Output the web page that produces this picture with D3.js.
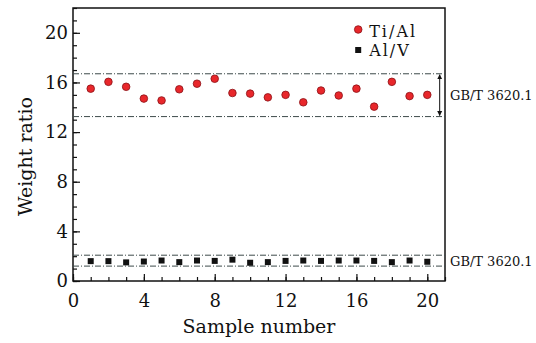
<!DOCTYPE html>
<html>
<head>
<meta charset="utf-8">
<script src="https://cdn.jsdelivr.net/npm/d3@7"></script>
<style>
  body { margin: 0; background: #fff; }
</style>
</head>
<body>
<div id="chart"></div>
<script>
const samples = d3.range(1, 21);
const tiAl = [15.5, 16.05, 15.65, 14.7, 14.55, 15.45, 15.9, 16.3, 15.15, 15.1,
              14.8, 15.0, 14.4, 15.35, 14.95, 15.5, 14.05, 16.05, 14.9, 15.0];
const alV = [1.6, 1.6, 1.5, 1.57, 1.65, 1.52, 1.65, 1.62, 1.72, 1.47,
             1.52, 1.62, 1.65, 1.62, 1.65, 1.65, 1.62, 1.52, 1.65, 1.55];
const tiAlLimits = [13.25, 16.7];
const alVLimits = [1.2, 2.08];
const xTicks = [0, 4, 8, 12, 16, 20];
const yTicks = [0, 4, 8, 12, 16, 20];
const limitLabel = 'GB/T 3620.1';

const FONT = '"DejaVu Serif", "Liberation Serif", serif';
const W = 536, H = 343;
const margin = { top: 8, right: 91, bottom: 62, left: 73 };
const width = W - margin.left - margin.right;
const height = H - margin.top - margin.bottom;

const svg = d3.select('#chart').append('svg')
  .attr('width', W).attr('height', H);
const g = svg.append('g')
  .attr('transform', `translate(${margin.left},${margin.top})`);

const x = d3.scaleLinear().domain([0, 21]).range([0, width]);
const y = d3.scaleLinear().domain([0, 22]).range([height, 0]);

// frame
g.append('rect')
  .attr('width', width).attr('height', height)
  .attr('fill', 'none').attr('stroke', '#111').attr('stroke-width', 1.5);

// minor ticks (inward)
g.append('g')
  .attr('transform', `translate(0,${height})`)
  .call(d3.axisBottom(x).tickValues(d3.range(0, 22)).tickSize(-4).tickFormat(''))
  .call(a => a.select('.domain').remove());
g.append('g')
  .call(d3.axisLeft(y).tickValues(d3.range(0, 23)).tickSize(-4).tickFormat(''))
  .call(a => a.select('.domain').remove());

// major ticks with labels
const xAxis = g.append('g')
  .attr('transform', `translate(0,${height})`)
  .call(d3.axisBottom(x).tickValues(xTicks).tickSize(-7).tickPadding(13));
xAxis.select('.domain').remove();
xAxis.selectAll('text').style('font-size', '18px');

const yAxis = g.append('g')
  .call(d3.axisLeft(y).tickValues(yTicks).tickSize(-7).tickPadding(5));
yAxis.select('.domain').remove();
yAxis.selectAll('text').style('font-size', '18px');
g.selectAll('.tick line').attr('stroke', '#111').attr('stroke-width', 1.2);

// limit lines
const limits = [...tiAlLimits, ...alVLimits];
g.selectAll('.limit')
  .data(limits)
  .enter().append('line')
  .attr('class', 'limit')
  .attr('x1', 0).attr('x2', width)
  .attr('y1', d => y(d)).attr('y2', d => y(d))
  .attr('stroke', '#3d4a4a').attr('stroke-width', 1)
  .attr('stroke-dasharray', '6,2,1,2');

// double arrow for the Ti/Al band
const defs = svg.append('defs');
defs.append('marker')
  .attr('id', 'ah').attr('viewBox', '0 0 10 10')
  .attr('refX', 9).attr('refY', 5)
  .attr('markerWidth', 5).attr('markerHeight', 6)
  .attr('orient', 'auto-start-reverse')
  .append('path').attr('d', 'M0,0 L10,5 L0,10 z').attr('fill', '#111');
g.append('line')
  .attr('x1', x(20.7)).attr('x2', x(20.7))
  .attr('y1', y(tiAlLimits[1]) + 1).attr('y2', y(tiAlLimits[0]) - 1)
  .attr('stroke', '#111').attr('stroke-width', 1)
  .attr('marker-start', 'url(#ah)').attr('marker-end', 'url(#ah)');

// labels to the right
g.append('text')
  .attr('x', width + 5).attr('y', y(d3.mean(tiAlLimits)) + 5)
  .style('font-size', '13px').text(limitLabel);
g.append('text')
  .attr('x', width + 5).attr('y', y(d3.mean(alVLimits)) + 5)
  .style('font-size', '13px').text(limitLabel);

// points
g.selectAll('.ti')
  .data(samples)
  .enter().append('circle')
  .attr('cx', d => x(d)).attr('cy', (d, i) => y(tiAl[i]))
  .attr('r', 3.8)
  .attr('fill', '#e8272b').attr('stroke', '#8a1015').attr('stroke-width', 0.8);

g.selectAll('.al')
  .data(samples)
  .enter().append('rect')
  .attr('x', d => x(d) - 3).attr('y', (d, i) => y(alV[i]) - 3)
  .attr('width', 6).attr('height', 6)
  .attr('fill', '#111');

// legend
const legend = g.append('g').attr('transform', `translate(${x(16.1)},0)`);
legend.append('circle').attr('cx', 0).attr('cy', 21.5).attr('r', 3.8)
  .attr('fill', '#e8272b').attr('stroke', '#8a1015').attr('stroke-width', 0.8);
legend.append('text').attr('x', 11).attr('y', 29)
  .style('font-size', '16px').style('letter-spacing', '2px').text('Ti/Al');
legend.append('rect').attr('x', -3).attr('y', 39).attr('width', 6).attr('height', 6).attr('fill', '#111');
legend.append('text').attr('x', 11).attr('y', 47.5)
  .style('font-size', '16px').style('letter-spacing', '2px').text('Al/V');

// axis titles
svg.append('text')
  .attr('x', margin.left + width / 2).attr('y', H - 10)
  .attr('text-anchor', 'middle').style('font-size', '19px')
  .text('Sample number');
svg.append('text')
  .attr('transform', `translate(32,${margin.top + height / 2 + 12}) rotate(-90)`)
  .attr('text-anchor', 'middle').style('font-size', '19px')
  .text('Weight ratio');

svg.selectAll('text').style('font-family', FONT).attr('fill', '#111');
</script>
</body>
</html>
